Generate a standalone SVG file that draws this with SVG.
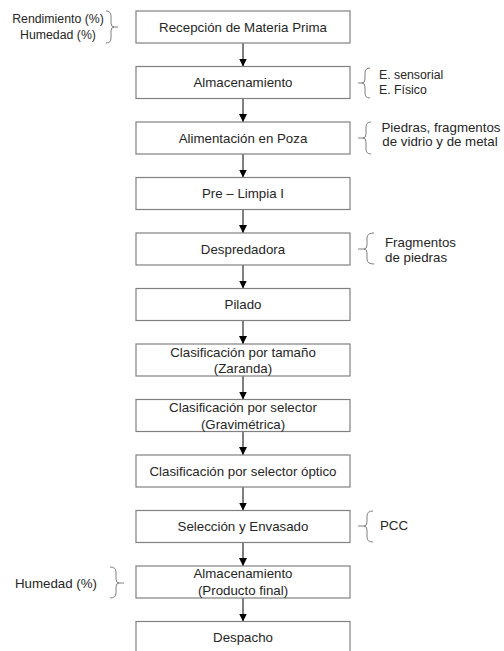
<svg xmlns="http://www.w3.org/2000/svg" width="504" height="651" viewBox="0 0 504 651">
<defs>
<style>
.box{fill:#fff;stroke:#808080;stroke-width:1.2}
.t{font-family:"Liberation Sans",Arial,sans-serif;font-size:13.3px;fill:#262626;text-anchor:middle}
.a{font-family:"Liberation Sans",Arial,sans-serif;font-size:13.3px;fill:#262626}
.s{font-size:12.3px}
.br{fill:none;stroke:#808080;stroke-width:1}
.c{stroke:#000;stroke-width:1;fill:none;marker-end:url(#ah)}
</style>
<marker id="ah" viewBox="0 0 8 10" refX="8" refY="5" markerWidth="8" markerHeight="10" markerUnits="userSpaceOnUse" orient="auto">
<path d="M0,1 L8,5 L0,9 Z" fill="#000"/>
</marker>
</defs>
<rect width="504" height="651" fill="#fff"/>
<g id="connectors">
<line class="c" x1="243" y1="43" x2="243" y2="66.5"/>
<line class="c" x1="243" y1="98.5" x2="243" y2="122"/>
<line class="c" x1="243" y1="154" x2="243" y2="177.5"/>
<line class="c" x1="243" y1="209.5" x2="243" y2="233"/>
<line class="c" x1="243" y1="265" x2="243" y2="288.5"/>
<line class="c" x1="243" y1="320.5" x2="243" y2="344"/>
<line class="c" x1="243" y1="376" x2="243" y2="399.5"/>
<line class="c" x1="243" y1="431.5" x2="243" y2="455"/>
<line class="c" x1="243" y1="487" x2="243" y2="510.5"/>
<line class="c" x1="243" y1="542.5" x2="243" y2="566"/>
<line class="c" x1="243" y1="598" x2="243" y2="621.5"/>
</g>
<g id="n1"><rect class="box" x="136" y="11" width="214" height="32"/><text class="t" x="243" y="31.5">Recepción de Materia Prima</text></g>
<g id="n2"><rect class="box" x="136" y="66.5" width="214" height="32"/><text class="t" x="243" y="87">Almacenamiento</text></g>
<g id="n3"><rect class="box" x="136" y="122" width="214" height="32"/><text class="t" x="243" y="142.5">Alimentación en Poza</text></g>
<g id="n4"><rect class="box" x="136" y="177.5" width="214" height="32"/><text class="t" x="243" y="198">Pre – Limpia I</text></g>
<g id="n5"><rect class="box" x="136" y="233" width="214" height="32"/><text class="t" x="243" y="253.5">Despredadora</text></g>
<g id="n6"><rect class="box" x="136" y="288.5" width="214" height="32"/><text class="t" x="243" y="309">Pilado</text></g>
<g id="n7"><rect class="box" x="136" y="344" width="214" height="32"/><text class="t" x="243" y="356.5">Clasificación por tamaño</text><text class="t" x="243" y="373">(Zaranda)</text></g>
<g id="n8"><rect class="box" x="136" y="399.5" width="214" height="32"/><text class="t" x="243" y="412">Clasificación por selector</text><text class="t" x="243" y="428.5">(Gravimétrica)</text></g>
<g id="n9"><rect class="box" x="136" y="455" width="214" height="32"/><text class="t" x="243" y="475.5">Clasificación por selector óptico</text></g>
<g id="n10"><rect class="box" x="136" y="510.5" width="214" height="32"/><text class="t" x="243" y="531">Selección y Envasado</text></g>
<g id="n11"><rect class="box" x="136" y="566" width="214" height="32"/><text class="t" x="243" y="578">Almacenamiento</text><text class="t" x="243" y="595">(Producto final)</text></g>
<g id="n12"><rect class="box" x="136" y="621.5" width="214" height="32"/><text class="t" x="243" y="642">Despacho</text></g>

<g id="note-top-left">
<text class="t s" x="58" y="23">Rendimiento (%)</text>
<text class="t s" x="58" y="39">Humedad (%)</text>
<path class="br" d="M106,11 Q111,11 111,16 L111,23 Q111,27 114,27 Q111,27 111,31 L111,38 Q111,43 106,43 M113,27 L118,27"/>
</g>
<g id="note-almacenamiento">
<path class="br" d="M370,68 Q365,68 365,73 L365,79 Q365,83 362,83 Q365,83 365,87 L365,93 Q365,98 370,98 M358,83 L364,83"/>
<text class="a s" x="379" y="79">E. sensorial</text>
<text class="a s" x="379" y="94">E. Físico</text>
</g>
<g id="note-poza">
<path class="br" d="M371,122 Q366,122 366,127 L366,134 Q366,138 363,138 Q366,138 366,142 L366,149 Q366,154 371,154 M358,138 L365,138"/>
<text class="t" x="441" y="131.5">Piedras, fragmentos</text>
<text class="t" x="440" y="146">de vidrio y de metal</text>
</g>
<g id="note-despredadora">
<path class="br" d="M374,233 Q367,233 367,238 L367,245 Q367,249 364,249 Q367,249 367,253 L367,259 Q367,264 374,264 M358,249 L365,249"/>
<text class="a" x="385" y="246.5">Fragmentos</text>
<text class="a" x="385" y="262">de piedras</text>
</g>
<g id="note-pcc">
<path class="br" d="M373,511 Q367,511 367,516 L367,522 Q367,526 364,526 Q367,526 367,530 L367,537 Q367,542 373,542 M358,526 L365,526"/>
<text class="a" x="380" y="530">PCC</text>
</g>
<g id="note-bottom-left">
<text class="a" x="15" y="588">Humedad (%)</text>
<path class="br" d="M110,567 Q116,567 116,572 L116,579 Q116,583 119,583 Q116,583 116,587 L116,593 Q116,598 110,598 M118,583 L124,583"/>
</g>
</svg>
